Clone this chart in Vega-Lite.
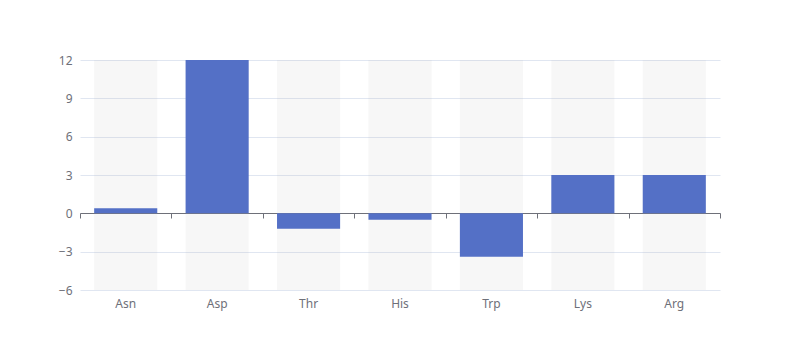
{
  "$schema": "https://vega.github.io/schema/vega-lite/v6.json",
  "width": 640,
  "height": 230,
  "autosize": {"type": "none"},
  "padding": {"left": 80, "top": 60, "right": 80, "bottom": 70},
  "background": "#ffffff",
  "config": {
    "view": {"stroke": null},
    "font": "Noto Sans",
    "axis": {"labelFont": "Noto Sans", "labelFontSize": 12, "labelColor": "#6e7079"},
    "axisY": {"grid": true, "gridColor": "#e0e6f1", "gridWidth": 1, "domain": false, "ticks": false, "labelPadding": 8, "labelOverlap": false, "title": null}
  },
  "data": {
    "values": [
      {"amino": "Asn", "value": 0.4},
      {"amino": "Asp", "value": 12},
      {"amino": "Thr", "value": -1.2},
      {"amino": "His", "value": -0.5},
      {"amino": "Trp", "value": -3.4},
      {"amino": "Lys", "value": 3},
      {"amino": "Arg", "value": 3}
    ]
  },
  "resolve": {"axis": {"x": "independent"}, "scale": {"x": "independent"}},
  "layer": [
    {
      "mark": {"type": "bar", "color": "#b4b4b4", "opacity": 0.1},
      "encoding": {
        "x": {
          "field": "amino", "type": "nominal", "sort": null,
          "scale": {"paddingInner": 0.31, "paddingOuter": 0.155},
          "axis": {"title": null, "orient": "bottom", "domain": false, "ticks": false, "labelPadding": 8, "labelAngle": 0, "grid": false}
        },
        "y": {
          "datum": 12, "type": "quantitative",
          "scale": {"domain": [-6, 12], "nice": false, "zero": false},
          "axis": {"title": null, "values": [-6, -3, 0, 3, 6, 9, 12], "grid": true}
        },
        "y2": {"datum": -6}
      }
    },
    {
      "mark": {"type": "bar", "color": "#5470c6"},
      "encoding": {
        "x": {
          "field": "amino", "type": "nominal", "sort": null,
          "scale": {"paddingInner": 0.31, "paddingOuter": 0.155},
          "axis": null
        },
        "y": {
          "field": "value", "type": "quantitative",
          "axis": {"title": null, "values": [-6, -3, 0, 3, 6, 9, 12], "grid": true}
        },
        "y2": {"datum": 0}
      }
    },
    {
      "mark": {"type": "point", "opacity": 0},
      "encoding": {
        "x": {
          "field": "amino", "type": "nominal", "sort": null,
          "scale": {"paddingInner": 0, "paddingOuter": 0},
          "axis": {"title": null, "orient": "bottom", "offset": -77, "labels": false, "domain": true, "domainColor": "#6e7079", "ticks": true, "tickColor": "#6e7079", "tickSize": 5, "tickBand": "extent", "grid": false}
        },
        "y": {
          "datum": 0, "type": "quantitative",
          "axis": {"title": null, "values": [-6, -3, 0, 3, 6, 9, 12], "grid": true}
        }
      }
    }
  ]
}
